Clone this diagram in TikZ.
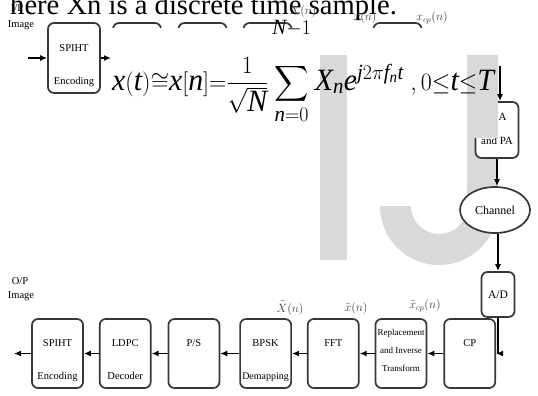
\documentclass[tikz,border=0pt]{standalone}
\usepackage{fontspec}
\setmainfont{Liberation Serif}
\usepackage{amsmath}
\usepackage{graphicx}
\usetikzlibrary{positioning,shapes.geometric,arrows.meta}

\definecolor{wmark}{RGB}{217,217,217}
\definecolor{edge}{RGB}{55,55,55}

\newcommand{\boxtext}[1]{\begin{tabular}[t]{@{}c@{}}#1\end{tabular}}
\newcommand{\mi}[1]{\mathit{#1}}

\tikzset{
  rbox/.style={draw=edge,line width=1.7pt,rounded corners=6pt,fill=white,inner sep=0pt},
  blk/.style={rbox,minimum width=51pt,text height=27pt,text depth=42pt,
    font=\fontsize{10.5}{11}\selectfont},
  flow/.style={-{Latex[length=7pt,width=6pt]},line width=1.4pt},
  lbl/.style={inner sep=0pt,font=\fontsize{10.5}{12}\selectfont},
  sig/.style={inner sep=0pt,text=black!75,font=\fontsize{12}{14}\selectfont}
}

\begin{document}
\begin{tikzpicture}[x=1pt,y=-1pt]
  \useasboundingbox (0,0) rectangle (538,396);

  % text cut off above the figure
  \node(capt)[anchor=base west,inner sep=0pt,font=\fontsize{28.6}{34}\selectfont] at (10,15) {here Xn is a discrete time sample.};

  % transmitter
  \node(iplbl)[lbl] at (17,8) {I/P};
  \node(ipimg)[lbl] at (21,25) {Image};
  \node(spihte)[blk,minimum width=52pt,text height=29pt,text depth=41pt] at (74,58) {\boxtext{SPIHT\\[22pt]Encoding}};
  \node(hid1)[rbox,minimum width=48pt,minimum height=70pt] at (137,58) {};
  \node(hid2)[rbox,minimum width=48pt,minimum height=70pt] at (202.5,58) {};
  \node(hid3)[rbox,minimum width=48pt,minimum height=70pt] at (267.5,58) {};
  \node(hid4)[rbox,minimum width=48pt,minimum height=70pt] at (397.5,58) {};
  \coordinate(ipin) at (28,58);
  \coordinate(eqin) at (111,58);
  \draw[flow] (ipin) -- (spihte);
  \draw[flow] (spihte) -- (eqin);
  \node(xlbl)[sig] at (303,12) {$X(n)$};
  \node(xnlbl)[sig] at (365,18) {$x(n)$};
  \node(xcplbl)[sig] at (432,18) {$x_{cp}(n)$};

  % equation pasted over the chain
  \fill[white] (112,28) rectangle (497,138);

  % watermark
  \fill[wmark] (320,55) rectangle (347,260);
  \fill[wmark] (467,55) -- (498,55) -- (498,206) arc[start angle=0,end angle=-180,radius=59pt]
    -- (411,206) arc[start angle=-180,end angle=0,radius=28pt] -- cycle;

  % channel side
  \node(dab)[rbox,minimum width=43pt,minimum height=56pt,font=\fontsize{11}{11}\selectfont] at (497,130) {\boxtext{D/A\\[13pt]and PA}};
  \node(chan)[ellipse,draw=edge,line width=1.7pt,fill=white,inner sep=0pt,minimum width=70pt,minimum height=46pt,font=\fontsize{12}{12}\selectfont] at (495,210) {Channel};
  \node(adb)[rbox,minimum width=33pt,minimum height=45pt,font=\fontsize{11.5}{12}\selectfont] at (498,294.5) {A/D};
  \fill[wmark] (467,100) rectangle (498,138);

  \node(eqn)[anchor=base west,inner sep=0pt,font=\fontsize{31}{36}\selectfont] at (112,90) {\scalebox{0.96}[1]{$\displaystyle \mi{x}(\mi{t}){\cong}\mi{x}[\mi{n}]{=}\frac{1}{\sqrt{\mi{N}}}\sum_{\mi{n}=0}^{\mi{N}-1\rule[-27pt]{0pt}{0pt}}\mi{X}_{\mi{n}}\mi{e}^{\mi{j}2\pi \mi{f}_{\mi{n}}\mi{t}}\;,0{\le}\mi{t}{\le}\mi{T}$}};

  \coordinate(dain) at (500,66);
  \draw[flow] (dain) -- (dain |- dab.north);
  \draw[flow] (dab.south) -- (dab.south |- chan.north);
  \draw[flow] (chan.south -| adb) -- (adb.north);

  % receiver
  \node(spihtd)[blk] at (57.5,353.5) {\boxtext{SPIHT\\[22pt]Encoding}};
  \node(ldpc)[blk,right=15pt of spihtd] {\boxtext{LDPC\\[22pt]Decoder}};
  \node(ps)[blk,right=16pt of ldpc] {P/S};
  \node(bpsk)[blk,right=19pt of ps] {\boxtext{BPSK\\[22pt]\fontsize{10}{11}\selectfont Demapping}};
  \node(fft)[blk,right=15pt of bpsk] {FFT};
  \node(repl)[blk,right=15pt of fft,text height=16pt,text depth=53pt,font=\fontsize{9}{10}\selectfont] {\boxtext{Replacement\\[8pt]and Inverse\\[8pt]Transform}};
  \node(cpb)[blk,right=16pt of repl] {CP};
  \coordinate(opout) at (14,353.5);
  \node(oplbl)[lbl] at (20,281) {O/P};
  \node(opimg)[lbl] at (21,296) {Image};

  \draw[flow] (adb.south) |- (cpb.east);
  \draw[flow] (cpb) -- (repl);
  \draw[flow] (repl) -- (fft);
  \draw[flow] (fft) -- (bpsk);
  \draw[flow] (bpsk) -- (ps);
  \draw[flow] (ps) -- (ldpc);
  \draw[flow] (ldpc) -- (spihtd);
  \draw[flow] (spihtd) -- (opout);

  \node(yflbl)[sig] at (290,308) {$\tilde{X}(n)$};
  \node(ytlbl)[sig] at (356,308) {$\tilde{x}(n)$};
  \node(ycplbl)[sig] at (425,306) {$\tilde{x}_{cp}(n)$};
\end{tikzpicture}
\end{document}
